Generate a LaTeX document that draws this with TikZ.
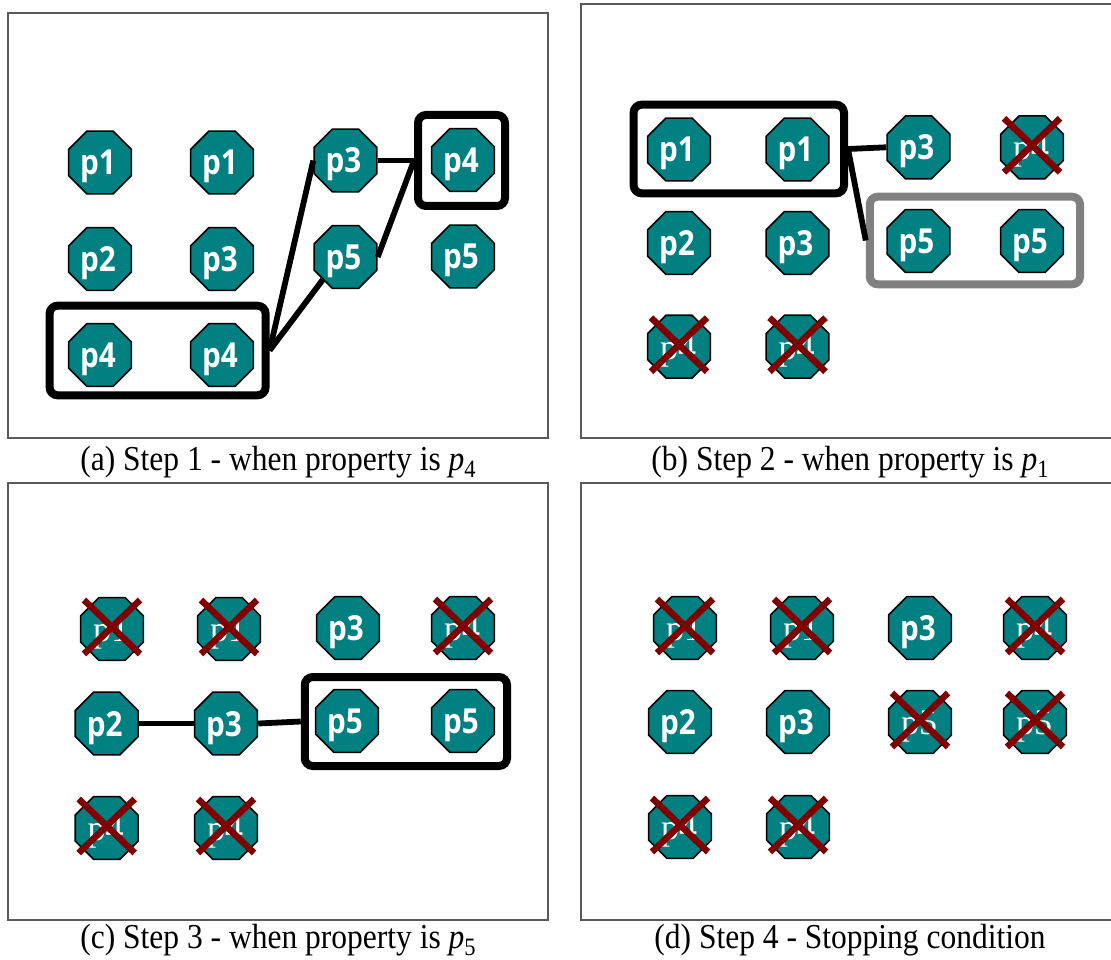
\documentclass[tikz,border=0pt]{standalone}
\usepackage{fontspec}
\setmainfont{Liberation Serif}
\newfontfamily\capfont[FakeStretch=0.9]{Liberation Serif}
\newfontfamily\octfont[FakeStretch=0.86]{Open Sans}
\usetikzlibrary{shapes.geometric}
\definecolor{octteal}{RGB}{0,128,128}
\definecolor{xred}{RGB}{128,0,0}
\definecolor{grpgray}{RGB}{128,128,128}
\definecolor{framegray}{RGB}{90,90,90}
\tikzset{
  octshape/.style={regular polygon, regular polygon sides=8, minimum size=68pt, inner sep=0pt,
    fill=octteal, draw=black, line width=1.6pt},
  octtext/.style={text=white, inner sep=0pt, font=\octfont\bfseries\fontsize{34.5}{38}\selectfont},
  xtext/.style={text=white, inner sep=0pt, font=\fontsize{36}{40}\selectfont},
  xmark/.style={draw=xred, line width=6.5pt},
  grpbox/.style={draw=black, line width=8pt, rounded corners=8pt, inner sep=0pt},
  grpgraybox/.style={draw=grpgray, line width=8pt, rounded corners=8pt, inner sep=0pt},
  conn/.style={draw=black, line width=5.8pt},
  framebox/.style={draw=framegray, line width=1.4pt},
  captext/.style={inner sep=0pt, anchor=base, font=\capfont\fontsize{35}{40}\selectfont}
}
\newcommand\octN[3]{\node[octshape] (#1) at (#2) {};
  \node[octtext, anchor=base] (#1t) at ([xshift=-2pt,yshift=-12.5pt]#1.center) {#3};}
\newcommand\octX[3]{\node[octshape] (#1) at (#2) {};
  \node[xtext, anchor=base] (#1t) at ([xshift=-1pt,yshift=-12.5pt]#1.center) {#3};
  \draw[xmark] ([shift={(-28,-29)}]#1.center) -- ([shift={(28,25)}]#1.center);
  \draw[xmark] ([shift={(28,-29)}]#1.center) -- ([shift={(-28,25)}]#1.center);}
\newcommand\subp[1]{\textit{p}\raisebox{-0.22em}{\fontsize{25}{25}\selectfont #1}}
\begin{document}
\begin{tikzpicture}[x=1pt,y=-1pt]
\useasboundingbox (0,0) rectangle (1111,960);
% frames
\draw[framebox] (8,13) rectangle (548,438);
\draw[framebox] (581,4) rectangle (1125,438);
\draw[framebox] (8,483) rectangle (548,920);
\draw[framebox] (581,483) rectangle (1125,920);
% ---------- panel a ----------
\octN{a11}{100,162.5}{p1}
\octN{a12}{222,162.5}{p1}
\octN{a13}{345.5,160.5}{p3}
\octN{a14}{463,160}{p4}
\octN{a21}{100,259}{p2}
\octN{a22}{222,259}{p3}
\octN{a23}{345.5,257}{p5}
\octN{a24}{463,256.5}{p5}
\octN{a31}{100,355}{p4}
\octN{a32}{222,355}{p4}
\node[grpbox, minimum width=216pt, minimum height=89.6pt] (Abox1) at (157.6,350.5) {};
\node[grpbox, minimum width=87pt, minimum height=91pt] (Abox2) at (461.5,160.5) {};
\draw[conn] (Abox1.east) -- (a13.west);
\draw[conn] (Abox1.east) -- (a23.south west);
\draw[conn] (a13.east) -- (Abox2.west);
\draw[conn] (Abox2.west) -- (a23.east);
\node[captext] (capA) at (278,470) {(a) Step 1 - when property is \subp{4}};
% ---------- panel b ----------
\octN{b11}{679,149.5}{p1}
\octN{b12}{797.5,149.5}{p1}
\octN{b13}{918.5,147.3}{p3}
\octX{b14}{1032,147.3}{p4}
\octN{b21}{679,243}{p2}
\octN{b22}{797.5,243}{p3}
\octN{b23}{918.5,241}{p5}
\octN{b24}{1032,241}{p5}
\octX{b31}{679,346.7}{p4}
\octX{b32}{797.5,346.7}{p4}
\node[grpbox, minimum width=210.4pt, minimum height=88.6pt] (Bbox1) at (738.8,149) {};
\node[grpgraybox, minimum width=210.3pt, minimum height=87.6pt] (Bbox2) at (974.9,240.5) {};
\draw[conn] (Bbox1.east) -- (b13.west);
\draw[conn] (Bbox1.east) -- (Bbox2.west);
\node[captext] (capB) at (850,470) {(b) Step 2 - when property is \subp{1}};
% ---------- panel c ----------
\octX{c11}{112,629}{p1}
\octX{c12}{229,629}{p1}
\octN{c13}{348,628}{p3}
\octX{c14}{463,628}{p4}
\octN{c21}{106.7,723.5}{p2}
\octN{c22}{226,723.5}{p3}
\octN{c23}{347,721}{p5}
\octN{c24}{463,721}{p5}
\octX{c31}{106.7,828}{p4}
\octX{c32}{226,828}{p4}
\node[grpbox, minimum width=202.3pt, minimum height=89pt] (Cbox) at (405.9,721.5) {};
\draw[conn] (c21.east) -- (c22.west);
\draw[conn] (c22.east) -- (Cbox.west);
\node[captext] (capC) at (278,948) {(c) Step 3 - when property is \subp{5}};
% ---------- panel d ----------
\octX{d11}{685,628}{p1}
\octX{d12}{802,628}{p1}
\octN{d13}{920,628}{p3}
\octX{d14}{1035,628}{p4}
\octN{d21}{680,722}{p2}
\octN{d22}{798,722}{p3}
\octX{d23}{920,722}{p5}
\octX{d24}{1035,722}{p5}
\octX{d31}{680,827}{p4}
\octX{d32}{798,827}{p4}
\node[captext] (capD) at (850,948) {(d) Step 4 - Stopping condition};
\end{tikzpicture}
\end{document}
